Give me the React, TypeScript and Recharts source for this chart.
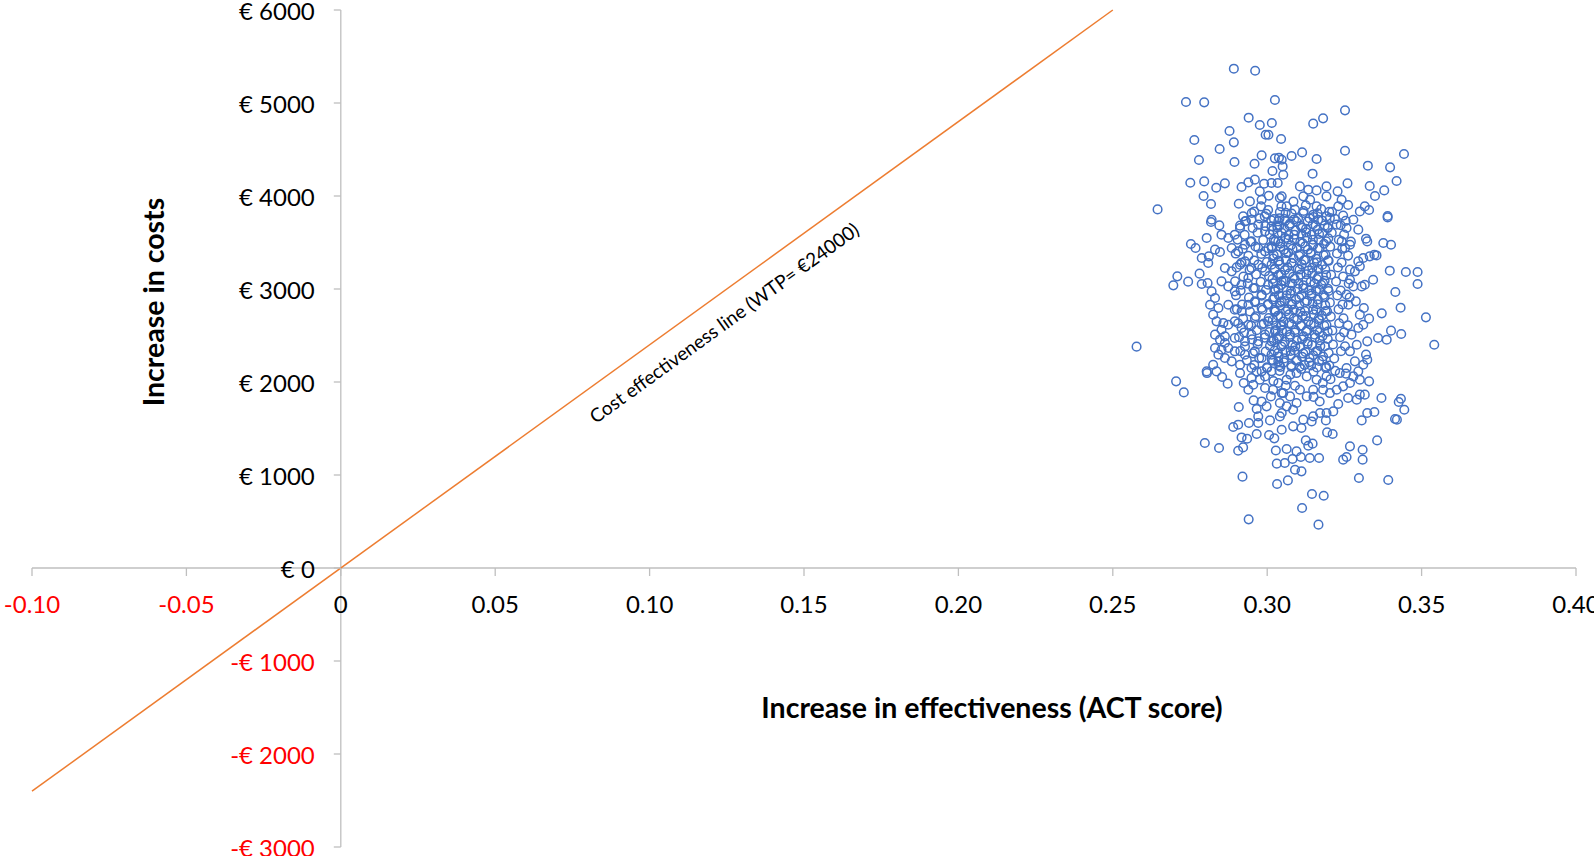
import { ScatterChart, Scatter, XAxis, YAxis, ReferenceLine, ReferenceDot } from 'recharts'

// Cost-effectiveness plane: bootstrap replicates (increase in ACT score vs. increase in costs)

const WIDTH = 1594
const HEIGHT = 856
const MARGIN = { top: 10, right: 18, bottom: 9, left: 32 }
const X_DOMAIN = [-0.1, 0.4]
const Y_DOMAIN = [-3000, 6000]
const X_TICKS = [-0.1, -0.05, 0, 0.05, 0.1, 0.15, 0.2, 0.25, 0.3, 0.35, 0.4]
const Y_TICKS = [-3000, -2000, -1000, 0, 1000, 2000, 3000, 4000, 5000, 6000]

// willingness-to-pay line, €24000 per ACT point
const WTP = 24000
const WTP_LINE = [[-0.1, -2400], [0.25, 6000]]
const WTP_LABEL_AT = [0.124, 2640]
const WTP_LABEL = 'Cost effectiveness line (WTP= €24000)'

// upper part of the cloud
const topPoints = [
  [0.2892, 5369], [0.2961, 5347], [0.2737, 5011], [0.2796, 5007], [0.3025, 5032], [0.2940, 4842],
  [0.2976, 4764], [0.3015, 4785], [0.2878, 4699], [0.2995, 4659], [0.3004, 4659], [0.3045, 4613],
  [0.2764, 4602], [0.2892, 4577], [0.2846, 4505], [0.2982, 4437], [0.2779, 4387], [0.2894, 4366],
  [0.2959, 4347], [0.3025, 4405], [0.3038, 4412], [0.3017, 4269], [0.2751, 4143], [0.2796, 4157],
  [0.2863, 4136], [0.2835, 4089], [0.2794, 4000], [0.2818, 3914], [0.2645, 3856], [0.2917, 4097],
  [0.2939, 4146], [0.2960, 4176], [0.2990, 4132], [0.3014, 4140], [0.3034, 4140], [0.2976, 4050],
  [0.2982, 3960], [0.3005, 4003], [0.3041, 3979], [0.2908, 3917], [0.2944, 3942], [0.2980, 3888],
  [0.2950, 3817], [0.2922, 3781], [0.2992, 3781], [0.3046, 3888], [0.2820, 3745],
  [0.3252, 4921], [0.3181, 4835], [0.3149, 4778], [0.3252, 4487], [0.3443, 4452], [0.3113, 4469],
  [0.3079, 4430], [0.3160, 4398], [0.3326, 4326], [0.3398, 4308], [0.3147, 4240], [0.3419, 4161],
  [0.3260, 4136], [0.3332, 4108], [0.3379, 4060], [0.3349, 4000], [0.3192, 4103], [0.3228, 4050],
  [0.3192, 3996], [0.3241, 3960], [0.3262, 3903], [0.3300, 3834], [0.3316, 3888], [0.3330, 3850],
  [0.3390, 3785], [0.3106, 4103], [0.3133, 4068], [0.3160, 4060], [0.3117, 3996], [0.3139, 3960],
  [0.3160, 3888], [0.3063, 3888], [0.3090, 3853], [0.3117, 3817], [0.3149, 3799], [0.3192, 3781],
  [0.3246, 3789], [0.3047, 4390], [0.3050, 4318], [0.3052, 4229], [0.3047, 3996],
  [0.3003, 3850], [0.3060, 3820], [0.3085, 3940], [0.3125, 3900], [0.3175, 3860], [0.3210, 3830],
  [0.3040, 3760], [0.3100, 3760], [0.3150, 3775], [0.3230, 3890],
]

// left flank
const leftPoints = [
  [0.2577, 2380], [0.2696, 3039], [0.2709, 3136], [0.2744, 3079], [0.2753, 3484], [0.2768, 3441],
  [0.2781, 3165], [0.2788, 3054], [0.2807, 3065], [0.2804, 3549], [0.2818, 3721], [0.2845, 3684],
  [0.2788, 3333], [0.2811, 3351], [0.2831, 3423], [0.2847, 3398], [0.2809, 3280], [0.2820, 2974],
  [0.2831, 2903], [0.2815, 2831], [0.2842, 2796], [0.2825, 2724], [0.2836, 2652], [0.2858, 2634],
  [0.2874, 2616], [0.2852, 2562], [0.2831, 2509], [0.2847, 2455], [0.2863, 2491], [0.2831, 2366],
  [0.2852, 2347], [0.2863, 2419], [0.2874, 2366], [0.2842, 2294], [0.2863, 2258], [0.2885, 2222],
  [0.2912, 2186], [0.2825, 2186], [0.2804, 2114], [0.2836, 2114],
  [0.2852, 3584], [0.2874, 3548], [0.2895, 3584], [0.2912, 3656], [0.2928, 3727], [0.2949, 3745],
  [0.2971, 3692], [0.2993, 3620], [0.3014, 3674], [0.3036, 3727], [0.2885, 3441], [0.2906, 3405],
  [0.2928, 3476], [0.2949, 3512], [0.2971, 3441], [0.2993, 3405], [0.3014, 3459], [0.3036, 3512],
  [0.2863, 3226], [0.2885, 3190], [0.2912, 3262], [0.2928, 3297], [0.2949, 3226], [0.2971, 3262],
  [0.2993, 3190], [0.3014, 3262], [0.3036, 3297], [0.2852, 3082], [0.2874, 3028], [0.2895, 2975],
  [0.2917, 3046], [0.2939, 3118], [0.2960, 3011], [0.2982, 2939], [0.3003, 3046], [0.3025, 2975],
  [0.3047, 3082], [0.2874, 2831], [0.2895, 2778], [0.2917, 2760], [0.2939, 2831], [0.2960, 2867],
  [0.2982, 2796], [0.3003, 2831], [0.3025, 2760], [0.3047, 2867], [0.2895, 2652], [0.2917, 2581],
  [0.2939, 2616], [0.2960, 2688], [0.2982, 2616], [0.3003, 2652], [0.3025, 2545], [0.3047, 2616],
  [0.2895, 2473], [0.2928, 2437], [0.2949, 2509], [0.2971, 2437], [0.2993, 2509], [0.3014, 2437],
  [0.3036, 2473], [0.2895, 2330], [0.2928, 2294], [0.2960, 2330], [0.2982, 2258], [0.3014, 2294],
  [0.3036, 2222], [0.2949, 2151], [0.2982, 2115], [0.3014, 2115],
]

// right flank
const rightPoints = [
  [0.3390, 3770], [0.3320, 3541], [0.3324, 3512], [0.3376, 3495], [0.3401, 3476], [0.3354, 3361],
  [0.3397, 3197], [0.3449, 3183], [0.3487, 3183], [0.3487, 3054], [0.3343, 3100], [0.3415, 2968],
  [0.3432, 2799], [0.3371, 2738], [0.3514, 2695], [0.3401, 2552], [0.3434, 2516], [0.3541, 2401],
  [0.3387, 2455], [0.3359, 2473], [0.3324, 2437], [0.3311, 2616], [0.3330, 2681], [0.3300, 2724],
  [0.3313, 2796], [0.3287, 2867], [0.3306, 3028], [0.3316, 3046], [0.3320, 2294], [0.3324, 2240],
  [0.3311, 2186], [0.3295, 2581], [0.3273, 2509], [0.3290, 2401], [0.3268, 2330], [0.3284, 2222],
  [0.3257, 2151], [0.3295, 2115], [0.3347, 3369], [0.3332, 3351], [0.3311, 3333], [0.3295, 3297],
  [0.3300, 3244], [0.3284, 3190], [0.3268, 3100], [0.3279, 3028], [0.3257, 2939], [0.3263, 2831],
  [0.3252, 3441], [0.3268, 3476], [0.3241, 3512], [0.3295, 3638], [0.3257, 3656], [0.3225, 3692],
  [0.3279, 3745], [0.3203, 3763],
]

// dense middle of the cloud
const corePoints = [
  [0.3022, 3752], [0.3058, 3731], [0.3087, 3748], [0.3131, 3726], [0.3165, 3744],
  [0.3039, 3683], [0.3073, 3702], [0.3109, 3677], [0.3148, 3696], [0.3186, 3681],
  [0.3018, 3633], [0.3055, 3651], [0.3092, 3628], [0.3126, 3646], [0.3163, 3637], [0.3196, 3655],
  [0.3034, 3598], [0.3069, 3579], [0.3111, 3594], [0.3144, 3583], [0.3179, 3601],
  [0.3021, 3531], [0.3058, 3549], [0.3088, 3536], [0.3129, 3552], [0.3167, 3529], [0.3198, 3545],
  [0.3043, 3488], [0.3077, 3471], [0.3115, 3492], [0.3149, 3475], [0.3184, 3486],
  [0.3015, 3437], [0.3054, 3421], [0.3096, 3441], [0.3132, 3424], [0.3170, 3438],
  [0.3032, 3371], [0.3068, 3389], [0.3106, 3374], [0.3141, 3392], [0.3189, 3368],
  [0.3019, 3327], [0.3061, 3311], [0.3085, 3331], [0.3123, 3314], [0.3159, 3326], [0.3197, 3309],
  [0.3041, 3262], [0.3079, 3279], [0.3112, 3265], [0.3152, 3281], [0.3178, 3258],
  [0.3024, 3218], [0.3057, 3203], [0.3099, 3221], [0.3134, 3199], [0.3166, 3214],
  [0.3037, 3152], [0.3072, 3169], [0.3108, 3155], [0.3146, 3171], [0.3191, 3149],
  [0.3017, 3108], [0.3053, 3091], [0.3089, 3111], [0.3127, 3094], [0.3161, 3106], [0.3186, 3089],
  [0.3045, 3043], [0.3081, 3059], [0.3117, 3041], [0.3153, 3058], [0.3175, 3046],
  [0.3026, 2998], [0.3064, 2981], [0.3098, 3001], [0.3136, 2983], [0.3169, 2997], [0.3199, 2979],
  [0.3038, 2931], [0.3075, 2949], [0.3111, 2934], [0.3143, 2951], [0.3182, 2936],
  [0.3019, 2887], [0.3056, 2871], [0.3093, 2889], [0.3129, 2873], [0.3164, 2886],
  [0.3042, 2822], [0.3078, 2839], [0.3104, 2824], [0.3147, 2841], [0.3188, 2826],
  [0.3023, 2778], [0.3061, 2761], [0.3086, 2779], [0.3122, 2763], [0.3158, 2776], [0.3194, 2761],
  [0.3035, 2713], [0.3071, 2729], [0.3115, 2711], [0.3151, 2728], [0.3177, 2714],
  [0.3018, 2668], [0.3052, 2651], [0.3097, 2669], [0.3133, 2653], [0.3168, 2667],
  [0.3044, 2602], [0.3079, 2619], [0.3109, 2603], [0.3141, 2617], [0.3185, 2604],
  [0.3027, 2558], [0.3063, 2541], [0.3091, 2559], [0.3126, 2543], [0.3162, 2556], [0.3196, 2542],
  [0.3039, 2493], [0.3074, 2509], [0.3118, 2491], [0.3154, 2508], [0.3179, 2494],
  [0.3021, 2448], [0.3057, 2431], [0.3096, 2449], [0.3131, 2433], [0.3171, 2447],
  [0.3046, 2382], [0.3082, 2399], [0.3107, 2383], [0.3145, 2397], [0.3187, 2384],
  [0.3024, 2338], [0.3059, 2321], [0.3088, 2339], [0.3124, 2323], [0.3163, 2336],
  [0.3037, 2273], [0.3076, 2289], [0.3113, 2271], [0.3149, 2288], [0.3181, 2274],
  [0.3019, 2228], [0.3054, 2211], [0.3094, 2229], [0.3136, 2213], [0.3168, 2226],
  [0.3043, 2163], [0.3078, 2179], [0.3105, 2161], [0.3142, 2178], [0.3191, 2164],
]

// second layer of the crowded centre
const fillPoints = [
  [0.2958, 3834], [0.2997, 3808], [0.3041, 3827], [0.3079, 3812], [0.3118, 3839], [0.3163, 3815], [0.3201, 3829],
  [0.2931, 3731], [0.2976, 3759], [0.3013, 3738], [0.3056, 3752], [0.3094, 3729], [0.3137, 3761], [0.3178, 3737],
  [0.3219, 3754], [0.3254, 3733],
  [0.2912, 3681], [0.2953, 3657], [0.2994, 3676], [0.3033, 3662], [0.3072, 3684], [0.3114, 3659], [0.3157, 3679],
  [0.3196, 3664], [0.3238, 3686],
  [0.2927, 3582], [0.2969, 3606], [0.3008, 3588], [0.3047, 3603], [0.3088, 3584], [0.3126, 3609], [0.3168, 3591],
  [0.3209, 3605], [0.3249, 3586],
  [0.2904, 3531], [0.2946, 3508], [0.2987, 3527], [0.3026, 3511], [0.3069, 3533], [0.3107, 3506], [0.3148, 3529],
  [0.3191, 3513], [0.3232, 3530], [0.3271, 3509],
  [0.2921, 3433], [0.2962, 3457], [0.3004, 3439], [0.3043, 3453], [0.3082, 3431], [0.3123, 3458], [0.3164, 3436],
  [0.3204, 3455], [0.3243, 3432],
  [0.2898, 3381], [0.2939, 3358], [0.2981, 3376], [0.3021, 3362], [0.3061, 3384], [0.3103, 3357], [0.3142, 3379],
  [0.3183, 3363], [0.3226, 3382], [0.3262, 3359],
  [0.2917, 3283], [0.2958, 3307], [0.2999, 3289], [0.3038, 3304], [0.3079, 3282], [0.3119, 3308], [0.3161, 3286],
  [0.3199, 3303], [0.3241, 3284],
  [0.2901, 3232], [0.2943, 3207], [0.2984, 3228], [0.3024, 3211], [0.3066, 3234], [0.3105, 3209], [0.3146, 3229],
  [0.3188, 3212], [0.3229, 3231], [0.3268, 3208],
  [0.2923, 3133], [0.2964, 3157], [0.3006, 3138], [0.3045, 3154], [0.3084, 3132], [0.3127, 3158], [0.3166, 3136],
  [0.3207, 3153], [0.3246, 3134],
  [0.2896, 3082], [0.2937, 3058], [0.2979, 3077], [0.3019, 3061], [0.3059, 3083], [0.3101, 3057], [0.3141, 3078],
  [0.3181, 3062], [0.3223, 3081], [0.3264, 3059],
  [0.2914, 2983], [0.2955, 3008], [0.2996, 2988], [0.3036, 3004], [0.3077, 2981], [0.3117, 3007], [0.3158, 2986],
  [0.3197, 3003], [0.3238, 2984],
  [0.2899, 2932], [0.2941, 2907], [0.2982, 2928], [0.3023, 2911], [0.3063, 2933], [0.3104, 2908], [0.3144, 2929],
  [0.3186, 2912], [0.3227, 2931], [0.3267, 2909],
  [0.2919, 2833], [0.2961, 2857], [0.3002, 2838], [0.3041, 2854], [0.3081, 2832], [0.3122, 2858], [0.3163, 2836],
  [0.3203, 2853], [0.3244, 2834],
  [0.2902, 2782], [0.2944, 2758], [0.2985, 2777], [0.3027, 2761], [0.3067, 2783], [0.3108, 2757], [0.3149, 2778],
  [0.3189, 2762], [0.3231, 2781],
  [0.2922, 2683], [0.2963, 2707], [0.3005, 2688], [0.3044, 2704], [0.3086, 2682], [0.3125, 2708], [0.3167, 2686],
  [0.3206, 2703], [0.3247, 2684],
  [0.2906, 2632], [0.2948, 2607], [0.2989, 2628], [0.3029, 2611], [0.3071, 2633], [0.3111, 2608], [0.3152, 2629],
  [0.3192, 2612], [0.3233, 2631], [0.3261, 2609],
  [0.2925, 2533], [0.2966, 2557], [0.3007, 2538], [0.3048, 2554], [0.3089, 2532], [0.3129, 2558], [0.3169, 2536],
  [0.3211, 2553], [0.3249, 2534],
  [0.2909, 2482], [0.2951, 2458], [0.2992, 2477], [0.3032, 2461], [0.3073, 2483], [0.3113, 2457], [0.3155, 2478],
  [0.3196, 2462], [0.3236, 2481],
  [0.2928, 2383], [0.2969, 2407], [0.3009, 2388], [0.3051, 2404], [0.3091, 2382], [0.3131, 2408], [0.3172, 2386],
  [0.3213, 2403], [0.3252, 2384],
  [0.2913, 2332], [0.2954, 2308], [0.2995, 2327], [0.3035, 2311], [0.3076, 2333], [0.3117, 2307], [0.3158, 2328],
  [0.3199, 2312], [0.3239, 2331],
  [0.2934, 2233], [0.2974, 2257], [0.3015, 2238], [0.3055, 2254], [0.3096, 2232], [0.3137, 2258], [0.3178, 2236],
  [0.3217, 2253],
  [0.2958, 2182], [0.2999, 2158], [0.3039, 2177], [0.3079, 2161], [0.3121, 2183], [0.3161, 2157], [0.3201, 2178],
]

// lower part of the cloud
const bottomPoints = [
  [0.3000, 2150], [0.3040, 2120], [0.3075, 2080], [0.3110, 2140], [0.3150, 2110], [0.3190, 2150],
  [0.3220, 2120], [0.3255, 2090], [0.3020, 2010], [0.3060, 1960], [0.3180, 1990], [0.3150, 1840],
  [0.3170, 1790], [0.3090, 1960], [0.3205, 2030],
  [0.2705, 2007], [0.2730, 1888], [0.2805, 2096], [0.2854, 2054], [0.2872, 1982], [0.2908, 1731],
  [0.2890, 1516], [0.2906, 1541], [0.2917, 1404], [0.2935, 1390], [0.2798, 1344], [0.2844, 1290],
  [0.2906, 1261], [0.2922, 1297], [0.2920, 982], [0.2940, 523], [0.3032, 903], [0.3031, 1122],
  [0.3028, 1264], [0.3047, 1487], [0.3023, 1394], [0.3006, 1430], [0.2966, 1441], [0.2941, 1559],
  [0.2971, 1559], [0.3009, 1587], [0.3041, 1630], [0.2966, 1710], [0.2998, 1738], [0.2971, 1630],
  [0.2956, 1802], [0.2982, 1791], [0.3012, 1845], [0.3041, 1774], [0.3047, 1667], [0.2924, 1989],
  [0.2939, 1917], [0.2955, 1971], [0.2976, 2025], [0.2993, 1935], [0.3019, 1917], [0.3036, 1989],
  [0.2993, 2060], [0.2966, 2114], [0.2912, 2096], [0.2949, 2043], [0.3047, 1881],
  [0.3166, 466], [0.3113, 645], [0.3145, 796], [0.3183, 777], [0.3297, 968], [0.3392, 946],
  [0.3063, 1280], [0.3095, 1254], [0.3067, 942], [0.3082, 1172], [0.3109, 1194], [0.3138, 1183],
  [0.3168, 1183], [0.3057, 1129], [0.3090, 1057], [0.3111, 1039], [0.3246, 1165], [0.3257, 1194],
  [0.3309, 1272], [0.3309, 1165], [0.3268, 1308], [0.3356, 1372], [0.3125, 1372], [0.3147, 1337],
  [0.3133, 1315], [0.3194, 1458], [0.3212, 1441], [0.3084, 1523], [0.3111, 1505], [0.3144, 1576],
  [0.3190, 1587], [0.3306, 1587], [0.3324, 1667], [0.3347, 1677], [0.3414, 1602], [0.3420, 1595],
  [0.3444, 1702], [0.3426, 1785], [0.3433, 1820], [0.3370, 1828], [0.3330, 2007], [0.3230, 1763],
  [0.3262, 1828], [0.3290, 1810], [0.3300, 1864], [0.3316, 1864],
  [0.3214, 1684], [0.3192, 1667], [0.3171, 1667], [0.3149, 1630], [0.3117, 1595], [0.3084, 1702],
  [0.3063, 1738], [0.3095, 1774], [0.3128, 1845], [0.3149, 1917], [0.3181, 1917], [0.3203, 1881],
  [0.3225, 1917], [0.3246, 1953], [0.3268, 1989], [0.3300, 2025], [0.3279, 2060], [0.3235, 2096],
  [0.3192, 2060], [0.3160, 2025], [0.3128, 2060], [0.3095, 2096], [0.3063, 2025], [0.3052, 1881],
  [0.3074, 1845], [0.3106, 1917],
]

const points = [...topPoints, ...leftPoints, ...rightPoints, ...corePoints, ...fillPoints, ...bottomPoints].map(
  ([x, y]) => ({ x, y })
)
const wtpSegment = WTP_LINE.map(([x, y]) => ({ x, y }))

const FONT = 'Lato, "Open Sans", sans-serif'
const AXIS_GREY = '#bfbfbf'
const NEG_RED = '#ff0000'

// angle of the WTP line on screen, from the plot size and the domains
const plotW = WIDTH - MARGIN.left - MARGIN.right
const plotH = HEIGHT - MARGIN.top - MARGIN.bottom
const pxPerX = plotW / (X_DOMAIN[1] - X_DOMAIN[0])
const pxPerY = plotH / (Y_DOMAIN[1] - Y_DOMAIN[0])
const wtpAngle = (-Math.atan((WTP * pxPerY) / pxPerX) * 180) / Math.PI

const fmtX = (v: number) => (v === 0 ? '0' : v.toFixed(2))
const fmtY = (v: number) => (v < 0 ? `-€ ${-v}` : `€ ${v}`)

function XTick(props: any, v: number) {
  const { cx, cy } = props
  return (
    <g>
      <line x1={cx} y1={cy} x2={cx} y2={cy + 8} stroke={AXIS_GREY} strokeWidth={1.3} />
      <text
        x={cx}
        y={cy + 35}
        textAnchor="middle"
        dominantBaseline="central"
        fontFamily={FONT}
        fontSize={24}
        fill={v < 0 ? NEG_RED : '#000'}
      >
        {fmtX(v)}
      </text>
    </g>
  )
}

function YTick(props: any, v: number) {
  const { cx, cy } = props
  return (
    <g>
      <line x1={cx - 7} y1={cy} x2={cx} y2={cy} stroke={AXIS_GREY} strokeWidth={1.3} />
      <text
        x={cx - 26}
        y={cy}
        textAnchor="end"
        dominantBaseline="central"
        fontFamily={FONT}
        fontSize={24}
        fill={v < 0 ? NEG_RED : '#000'}
      >
        {fmtY(v)}
      </text>
    </g>
  )
}

function WtpLabel(props: any) {
  const { cx, cy } = props
  return (
    <text
      x={cx}
      y={cy}
      transform={`rotate(${wtpAngle} ${cx} ${cy})`}
      textAnchor="middle"
      dominantBaseline="central"
      fontFamily={FONT}
      fontSize={19}
      fill="#000"
    >
      {WTP_LABEL}
    </text>
  )
}

function Ring(props: any) {
  const { cx, cy } = props
  return <circle cx={cx} cy={cy} r={4.3} fill="none" stroke="#4472c4" strokeWidth={1.5} />
}

export default function App() {
  return (
    <div style={{ position: 'absolute', left: 0, top: 0, width: WIDTH, height: HEIGHT, background: '#fff' }}>
      <ScatterChart width={WIDTH} height={HEIGHT} margin={MARGIN}>
        <XAxis type="number" dataKey="x" domain={X_DOMAIN} ticks={X_TICKS} allowDataOverflow hide />
        <YAxis type="number" dataKey="y" domain={Y_DOMAIN} ticks={Y_TICKS} allowDataOverflow hide />

        {/* axes crossing at the origin */}
        <ReferenceLine y={0} stroke={AXIS_GREY} strokeWidth={1.3} />
        <ReferenceLine x={0} stroke={AXIS_GREY} strokeWidth={1.3} />

        {X_TICKS.map((v) => (
          <ReferenceDot key={`xt${v}`} x={v} y={0} r={0} shape={(p: any) => XTick(p, v)} />
        ))}
        {Y_TICKS.map((v) => (
          <ReferenceDot key={`yt${v}`} x={0} y={v} r={0} shape={(p: any) => YTick(p, v)} />
        ))}

        <ReferenceLine segment={wtpSegment} stroke="#ed7d31" strokeWidth={1.5} />
        <ReferenceDot x={WTP_LABEL_AT[0]} y={WTP_LABEL_AT[1]} r={0} shape={WtpLabel} />

        <Scatter data={points} shape={Ring} isAnimationActive={false} />
      </ScatterChart>

      <div
        style={{
          position: 'absolute',
          left: 992,
          top: 707,
          transform: 'translate(-50%, -50%)',
          fontFamily: FONT,
          fontWeight: 700,
          fontSize: 28.5,
          whiteSpace: 'nowrap',
        }}
      >
        Increase in effectiveness (ACT score)
      </div>
      <div
        style={{
          position: 'absolute',
          left: 153,
          top: 302,
          transform: 'translate(-50%, -50%) rotate(-90deg)',
          fontFamily: FONT,
          fontWeight: 700,
          fontSize: 28.5,
          whiteSpace: 'nowrap',
        }}
      >
        Increase in costs
      </div>
    </div>
  )
}
